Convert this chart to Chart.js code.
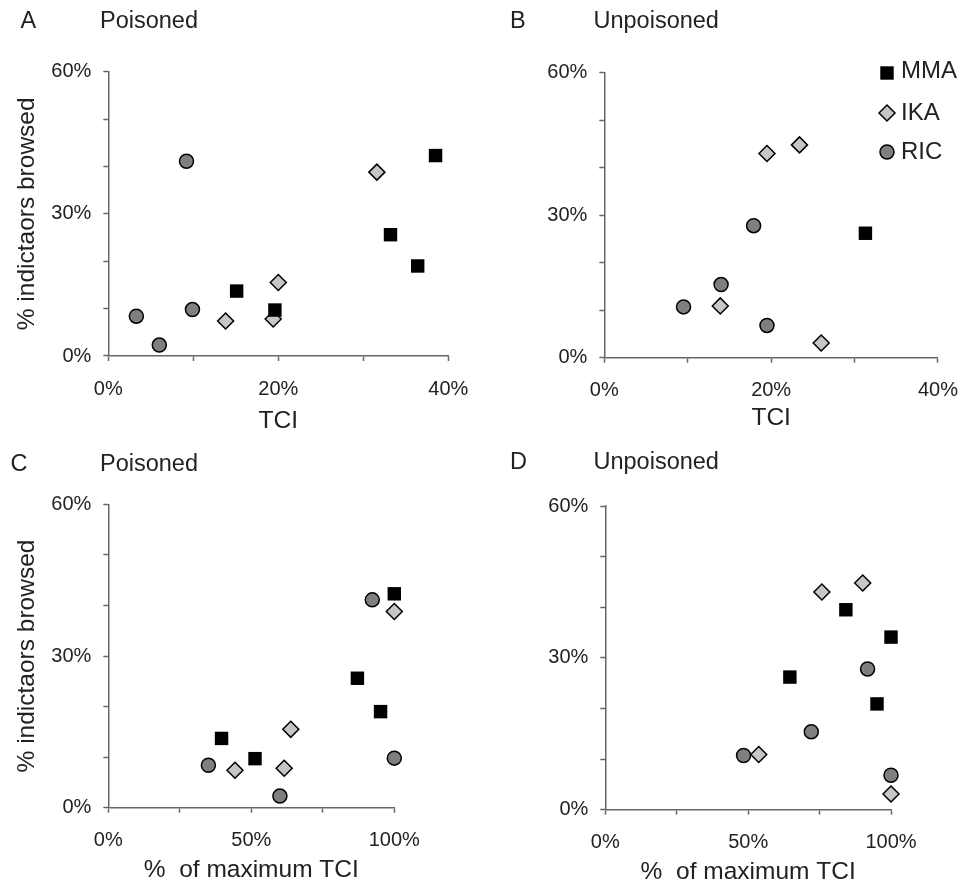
<!DOCTYPE html>
<html>
<head>
<meta charset="utf-8">
<title>Indicators browsed vs TCI</title>
<script src="https://cdn.jsdelivr.net/npm/chart.js@4.4.1/dist/chart.umd.min.js"></script>
<style>
  html, body { margin: 0; padding: 0; background: #fff; overflow: hidden; }
  canvas { position: absolute; left: 0; top: 0; }
</style>
</head>
<body>
<canvas id="panel-a" width="974" height="930"></canvas>
<canvas id="panel-b" width="974" height="930"></canvas>
<canvas id="panel-c" width="974" height="930"></canvas>
<canvas id="panel-d" width="974" height="930"></canvas>
<script>
// % indicators browsed, poisoned sites (shared by panels A and C)
const browsedPoisonedMMA = [42.3, 25.6, 19.0, 13.7, 9.7];
const browsedPoisonedIKA = [38.8, 15.5, 7.4, 7.8];
const browsedPoisonedRIC = [41.1, 8.4, 2.3, 9.8];

// TCI, poisoned sites (panel A)
const tciPoisonedMMA = [38.5, 33.2, 36.4, 15.1, 19.6];
const tciPoisonedIKA = [31.6, 20.0, 13.8, 19.4];
const tciPoisonedRIC = [9.2, 3.3, 6.0, 9.9];

// % of maximum TCI, poisoned sites (panel C)
const relPoisonedMMA = [100, 87.1, 95.2, 39.6, 51.3];
const relPoisonedIKA = [100, 63.8, 44.3, 61.5];
const relPoisonedRIC = [92.3, 35.0, 60.0, 100];

// unpoisoned sites
const browsedUnpoisonedMMA_B = [26.2];
const tciUnpoisonedMMA = [31.3];
const browsedUnpoisonedMMA_D = [39.5, 34.1, 26.2, 20.9];
const relUnpoisonedMMA = [84.2, 100, 64.6, 95.1];

const browsedUnpoisonedIKA = [43.0, 44.8, 10.9, 3.1];
const tciUnpoisonedIKA = [19.5, 23.4, 13.9, 26.0];
const relUnpoisonedIKA = [75.8, 90.1, 53.7, 100];

const browsedUnpoisonedRIC = [27.8, 15.4, 10.7, 6.8];
const tciUnpoisonedRIC = [17.9, 14.0, 9.5, 19.5];
const relUnpoisonedRIC = [91.8, 72.1, 48.4, 100];

// labelled tick values
const browsedTicks = [0, 30, 60];
const tciTicks = [0, 20, 40];
const relTicks = [0, 50, 100];

const FONT = '"Liberation Sans", Arial, sans-serif';
const INK = '#222';
const AXIS = '#666';
const PAGE_W = 974, PAGE_H = 930;

const speciesStyle = {
  MMA: { pointStyle: 'rect', pointRadius: 9.5, backgroundColor: '#000', borderColor: '#000', borderWidth: 0 },
  IKA: { pointStyle: 'rectRot', pointRadius: 8, backgroundColor: '#c6c6c6', borderColor: '#000', borderWidth: 1.5 },
  RIC: { pointStyle: 'circle', pointRadius: 7, backgroundColor: '#7f7f7f', borderColor: '#000', borderWidth: 1.5 },
};

function heading(letter, title, letterX, titleX, baseline) {
  return {
    id: 'heading',
    afterDraw(chart) {
      const ctx = chart.ctx;
      ctx.save();
      ctx.fillStyle = INK;
      ctx.font = '23.5px ' + FONT;
      ctx.textBaseline = 'alphabetic';
      ctx.textAlign = 'left';
      ctx.fillText(letter, letterX, baseline);
      ctx.fillText(title, titleX, baseline);
      ctx.restore();
    }
  };
}

// key for the three species, drawn inside panel B
const speciesKey = {
  id: 'speciesKey',
  afterDraw(chart) {
    const ctx = chart.ctx;
    const markY = [73, 113, 152];
    const textY = [71, 113, 152];
    chart.data.datasets.forEach((ds, i) => {
      ctx.save();
      ctx.fillStyle = ds.backgroundColor;
      ctx.strokeStyle = ds.borderColor;
      ctx.lineWidth = ds.borderWidth;
      Chart.helpers.drawPoint(ctx, {
        pointStyle: ds.pointStyle, radius: ds.pointRadius, borderWidth: ds.borderWidth, rotation: 0
      }, 887, markY[i]);
      ctx.fillStyle = INK;
      ctx.font = '24px ' + FONT;
      ctx.textAlign = 'left';
      ctx.textBaseline = 'middle';
      ctx.fillText(ds.label, 901, textY[i]);
      ctx.restore();
    });
  }
};

function axis(dir, max, step, labelled, title, size, titlePad) {
  return {
    type: 'linear',
    min: 0,
    max: max,
    afterFit(scale) {
      if (dir === 'x') scale.height = size; else scale.width = size;
    },
    border: { display: true, color: AXIS, width: 1.5 },
    grid: { display: true, drawOnChartArea: false, drawTicks: true, tickLength: 5, tickWidth: 1.5, tickColor: AXIS },
    ticks: {
      stepSize: step,
      autoSkip: false,
      maxRotation: 0,
      padding: dir === 'x' ? 16 : 12,
      color: INK,
      font: { family: FONT, size: 20 },
      callback: v => labelled.includes(v) ? v + '%' : ''
    },
    title: {
      display: !!title,
      text: title || '',
      color: INK,
      font: { family: FONT, size: 24.5 },
      padding: { top: titlePad, bottom: 0 }
    }
  };
}

function series(name, xs, ys) {
  const st = speciesStyle[name];
  return {
    label: name,
    data: xs.map((x, i) => ({ x: x, y: ys[i] })),
    pointStyle: st.pointStyle,
    pointRadius: st.pointRadius,
    pointHoverRadius: st.pointRadius,
    backgroundColor: st.backgroundColor,
    borderColor: st.borderColor,
    borderWidth: st.borderWidth,
    clip: false
  };
}

function panel(id, p) {
  const yWidth = 100;
  new Chart(document.getElementById(id), {
    type: 'scatter',
    data: { datasets: p.datasets },
    options: {
      responsive: false,
      animation: false,
      events: [],
      layout: {
        padding: {
          left: p.area.left - yWidth,
          top: p.area.top,
          right: PAGE_W - p.area.right,
          bottom: PAGE_H - p.area.bottom - p.xHeight
        }
      },
      plugins: { legend: { display: false }, tooltip: { enabled: false } },
      scales: {
        x: axis('x', p.xMax, p.xStep, p.xTicks, p.xTitle, p.xHeight, 0),
        y: axis('y', 60, 10, browsedTicks, p.yTitle, yWidth, 4)
      }
    },
    plugins: p.plugins
  });
}

panel('panel-a', {
  area: { left: 108.3, top: 71.7, right: 448.3, bottom: 356 },
  xMax: 40, xStep: 10, xTicks: tciTicks, xTitle: 'TCI', xHeight: 80,
  yTitle: '% indictaors browsed',
  datasets: [
    series('MMA', tciPoisonedMMA, browsedPoisonedMMA),
    series('IKA', tciPoisonedIKA, browsedPoisonedIKA),
    series('RIC', tciPoisonedRIC, browsedPoisonedRIC)
  ],
  plugins: [heading('A', 'Poisoned', 20.5, 100, 28.3)]
});

panel('panel-b', {
  area: { left: 604.3, top: 72.7, right: 944.7, bottom: 357.7 },
  xMax: 40, xStep: 10, xTicks: tciTicks, xTitle: 'TCI', xHeight: 75.2,
  yTitle: '',
  datasets: [
    series('MMA', tciUnpoisonedMMA, browsedUnpoisonedMMA_B),
    series('IKA', tciUnpoisonedIKA, browsedUnpoisonedIKA),
    series('RIC', tciUnpoisonedRIC, browsedUnpoisonedRIC)
  ],
  plugins: [heading('B', 'Unpoisoned', 510, 593.5, 28.3), speciesKey]
});

panel('panel-c', {
  area: { left: 108.3, top: 504.3, right: 394.3, bottom: 807.7 },
  xMax: 100, xStep: 25, xTicks: relTicks, xTitle: '%  of maximum TCI', xHeight: 77.2,
  yTitle: '% indictaors browsed',
  datasets: [
    series('MMA', relPoisonedMMA, browsedPoisonedMMA),
    series('IKA', relPoisonedIKA, browsedPoisonedIKA),
    series('RIC', relPoisonedRIC, browsedPoisonedRIC)
  ],
  plugins: [heading('C', 'Poisoned', 10.6, 100, 470.5)]
});

panel('panel-d', {
  area: { left: 605.3, top: 506, right: 891, bottom: 809.7 },
  xMax: 100, xStep: 25, xTicks: relTicks, xTitle: '%  of maximum TCI', xHeight: 77.2,
  yTitle: '',
  datasets: [
    series('MMA', relUnpoisonedMMA, browsedUnpoisonedMMA_D),
    series('IKA', relUnpoisonedIKA, browsedUnpoisonedIKA),
    series('RIC', relUnpoisonedRIC, browsedUnpoisonedRIC)
  ],
  plugins: [heading('D', 'Unpoisoned', 510, 593.5, 469)]
});
</script>
</body>
</html>
